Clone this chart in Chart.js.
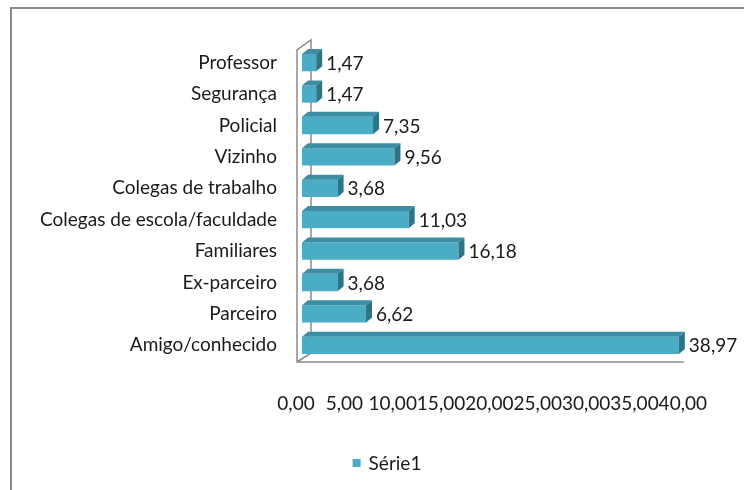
<!DOCTYPE html>
<html>
<head>
<meta charset="utf-8">
<script src="https://cdn.jsdelivr.net/npm/chart.js@4"></script>
<style>
    html, body { margin: 0; padding: 0; background: #fff; }
    #wrap { width: 744px; height: 490px; position: relative; }
</style>
</head>
<body>
<div id="wrap"><canvas id="chart" width="744" height="490"></canvas></div>
<script>
// Chart data
const categories = ['Professor', 'Segurança', 'Policial', 'Vizinho', 'Colegas de trabalho',
    'Colegas de escola/faculdade', 'Familiares', 'Ex-parceiro', 'Parceiro', 'Amigo/conhecido'];
const values = [1.47, 1.47, 7.35, 9.56, 3.68, 11.03, 16.18, 3.68, 6.62, 38.97];
const seriesName = 'Série1';
const xMin = 0, xMax = 40, xStep = 5;

const FONT = 'Lato, "Open Sans", sans-serif';
const TEXT = '#1a1a1a';
const fmt = v => Number(v).toFixed(2).replace('.', ',');

// outer frame (top and left edges visible)
const framePlugin = {
    id: 'frame',
    beforeDraw(chart) {
        const c = chart.ctx;
        c.save();
        c.strokeStyle = '#8a8a8a';
        c.lineWidth = 2;
        c.beginPath();
        c.moveTo(11, 490);
        c.lineTo(11, 8);
        c.lineTo(744, 8);
        c.stroke();
        c.restore();
    }
};

// 3D-style walls and floor lines
const wallPlugin = {
    id: 'walls',
    beforeDatasetsDraw(chart) {
        const c = chart.ctx;
        const a = chart.chartArea;
        const xs = chart.scales.x;
        const fx = a.left - 5, bx = a.left + 9;
        const ft = a.top + 3, bt = a.top - 7;
        const fb = a.bottom + 1, bb = a.bottom - 8;
        c.save();
        c.strokeStyle = '#8c8c8c';
        c.lineWidth = 1.5;
        c.beginPath();
        c.moveTo(bx, bb); c.lineTo(bx, bt); c.lineTo(fx, ft); c.lineTo(fx, fb);
        c.lineTo(xs.getPixelForValue(xMax) - 5, fb);
        c.moveTo(fx, fb); c.lineTo(bx, bb);
        c.stroke();
        c.restore();
    }
};

// top and side faces of each bar, plus value labels
const bar3dPlugin = {
    id: 'bar3d',
    afterDatasetsDraw(chart) {
        const c = chart.ctx;
        const meta = chart.getDatasetMeta(0);
        const dx = 6, dy = 5;
        c.save();
        meta.data.forEach((bar, i) => {
            const p = bar.getProps(['x', 'y', 'base', 'height'], true);
            const top = p.y - p.height / 2, bot = p.y + p.height / 2;
            c.fillStyle = '#3d8ea3';
            c.beginPath();
            c.moveTo(p.base, top); c.lineTo(p.base + dx, top - dy);
            c.lineTo(p.x + dx, top - dy); c.lineTo(p.x, top); c.closePath();
            c.fill();
            c.fillStyle = '#2f7386';
            c.beginPath();
            c.moveTo(p.x, top); c.lineTo(p.x + dx, top - dy);
            c.lineTo(p.x + dx, bot - dy); c.lineTo(p.x, bot); c.closePath();
            c.fill();
            c.fillStyle = TEXT;
            c.font = '19px ' + FONT;
            c.textAlign = 'left';
            c.textBaseline = 'middle';
            c.fillText(fmt(values[i]), p.x + dx + 4, p.y + 1);
        });
        c.restore();
    }
};

// legend below the axis, centred where the original sits
const legendPlugin = {
    id: 'seriesLegend',
    afterDraw(chart) {
        const c = chart.ctx;
        const ds = chart.data.datasets[0];
        c.save();
        c.font = '19px ' + FONT;
        const tw = c.measureText(ds.label).width;
        const cx = 387, cy = 463;
        const x0 = cx - (8 + 8 + tw) / 2;
        c.fillStyle = ds.backgroundColor;
        c.fillRect(x0, cy - 4, 8, 8);
        c.fillStyle = TEXT;
        c.textAlign = 'left';
        c.textBaseline = 'middle';
        c.fillText(ds.label, x0 + 16, cy + 1);
        c.restore();
    }
};

function initChart() {
    const ctx = document.getElementById('chart').getContext('2d');
    new Chart(ctx, {
        type: 'bar',
        data: {
            labels: categories,
            datasets: [{
                label: seriesName,
                data: values,
                backgroundColor: '#4bacc6',
                borderWidth: 0,
                barPercentage: 0.55,
                categoryPercentage: 1
            }]
        },
        options: {
            indexAxis: 'y',
            responsive: false,
            animation: false,
            layout: {
                padding: { left: 12, right: 51, top: 47, bottom: 46 }
            },
            plugins: {
                legend: { display: false },
                tooltip: { enabled: false }
            },
            scales: {
                x: {
                    min: xMin,
                    max: xMax,
                    grid: { display: false, drawTicks: false },
                    border: { display: false },
                    afterFit: s => { s.height = 83; },
                    ticks: {
                        stepSize: xStep,
                        autoSkip: false,
                        maxRotation: 0,
                        padding: 31,
                        labelOffset: -6,
                        color: TEXT,
                        font: { family: FONT, size: 19 },
                        callback: v => fmt(v)
                    }
                },
                y: {
                    grid: { display: false, drawTicks: false },
                    border: { display: false },
                    afterFit: s => { s.width = 290; },
                    ticks: {
                        padding: 25,
                        color: TEXT,
                        font: { family: FONT, size: 19 }
                    }
                }
            }
        },
        plugins: [framePlugin, wallPlugin, bar3dPlugin, legendPlugin]
    });
}

document.addEventListener('DOMContentLoaded', initChart);
</script>
</body>
</html>
